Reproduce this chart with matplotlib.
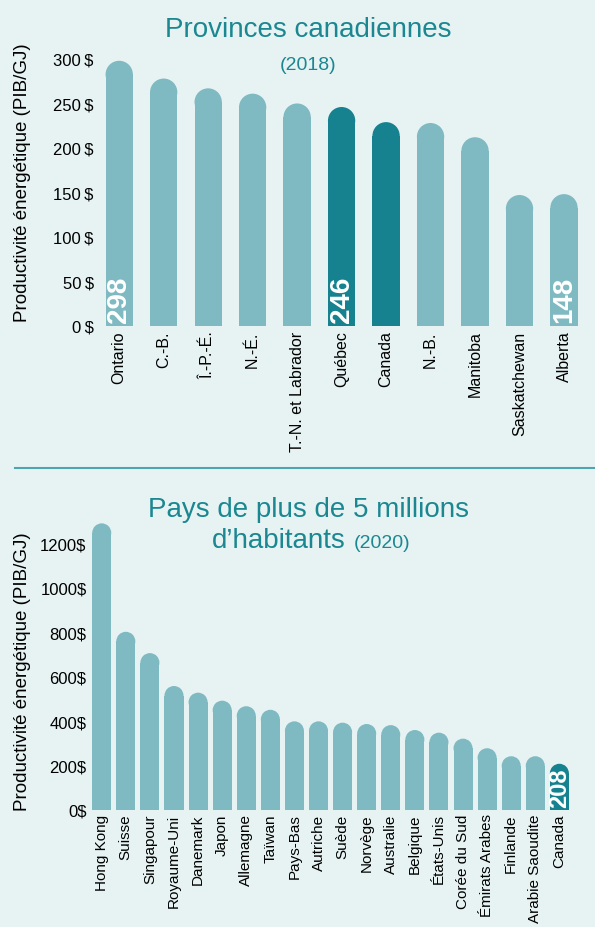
import numpy as np
import matplotlib
matplotlib.use("Agg")
import matplotlib.pyplot as plt
from matplotlib.patches import Ellipse

# --- data ---
prov_names = ["Ontario", "C.-B.", "Î.-P.-É.", "N.-É.", "T.-N. et Labrador", "Québec",
              "Canada", "N.-B.", "Manitoba", "Saskatchewan", "Alberta"]
prov_values = [298, 278, 267, 261, 250, 246, 229, 228, 212, 147, 148]
prov_dark = [False, False, False, False, False, True, True, False, False, False, False]
prov_show = [True, False, False, False, False, True, False, False, False, False, True]
prov_ticks = [0, 50, 100, 150, 200, 250, 300]

pays_names = ["Hong Kong", "Suisse", "Singapour", "Royaume-Uni", "Danemark", "Japon",
              "Allemagne", "Taïwan", "Pays-Bas", "Autriche", "Suède", "Norvège",
              "Australie", "Belgique", "États-Unis", "Corée du Sud", "Émirats Arabes",
              "Finlande", "Arabie Saoudite", "Canada"]
pays_values = [1290, 802, 706, 558, 528, 492, 467, 451, 399, 399, 393, 387,
               382, 360, 348, 321, 278, 242, 242, 208]
pays_dark = [False] * 19 + [True]
pays_show = [False] * 19 + [True]
pays_ticks = [0, 200, 400, 600, 800, 1000, 1200]

BG = "#E7F3F3"
LIGHT = "#7FBAC2"
DARK = "#168290"
TEAL = "#1A8791"
W, H = 595, 928
SANS = ["Liberation Sans", "DejaVu Sans"]

fig = plt.figure(figsize=(W / 100, H / 100), dpi=100, facecolor=BG)


def px_axes(left, right, top, bottom):
    # axes from pixel edges (origin top-left)
    return fig.add_axes([left / W, 1 - bottom / H, (right - left) / W, (bottom - top) / H])


def round_bars(ax, values, dark, width):
    x = np.arange(len(values))
    pos = ax.get_position()
    x0, x1 = ax.get_xlim()
    y0, y1 = ax.get_ylim()
    pxx = pos.width * W / (x1 - x0)
    pxy = pos.height * H / (y1 - y0)
    ry = (width / 2) * pxx / pxy
    for xi, v, d in zip(x, values, dark):
        c = DARK if d else LIGHT
        ax.bar(xi, v - ry, width=width, color=c, linewidth=0)
        ax.add_patch(Ellipse((xi, v - ry), width, 2 * ry, color=c, linewidth=0))


def style(ax, names, ticks, fmt, fs_x, xpad):
    ax.set_facecolor(BG)
    for s in ax.spines.values():
        s.set_visible(False)
    ax.set_yticks(ticks)
    ax.set_yticklabels([fmt.format(t) for t in ticks], family=SANS, fontsize=12)
    ax.set_xticks(np.arange(len(names)))
    ax.set_xticklabels(names, rotation=90, family=SANS, fontsize=fs_x, va="top")
    ax.tick_params(length=0, pad=4)
    ax.tick_params(axis="x", pad=xpad)


# --- provinces ---
ax1 = px_axes(99.2, 584, 51.1, 326.7)
ax1.set_xlim(-0.45, 10.45)
ax1.set_ylim(0, 310)
round_bars(ax1, prov_values, prov_dark, 0.614)
style(ax1, prov_names, prov_ticks, "{}\u2009$", 11.5, 3.5)
for i, (v, s) in enumerate(zip(prov_values, prov_show)):
    if s:
        ax1.annotate(str(v), (i, 0), xytext=(0, 3), textcoords="offset points",
                     rotation=90, ha="center", va="bottom", color="white",
                     fontsize=20, fontweight="bold", family=SANS)

fig.text(308 / W, 1 - 37 / H, "Provinces canadiennes", ha="center", va="baseline",
         color=TEAL, fontsize=20, family=SANS)
fig.text(308 / W, 1 - 70 / H, "(2018)", ha="center", va="baseline",
         color=TEAL, fontsize=14, family=SANS)
fig.text(23 / W, 1 - 182.5 / H, "Productivité énergétique (PIB/GJ)", rotation=90,
         ha="center", va="center", fontsize=13.5, family=SANS)

# separator
fig.add_artist(plt.Line2D([15 / W, 1], [1 - 469 / H] * 2, color="#4FA5AF", lw=1.5))

# --- pays ---
ax2 = px_axes(92.1, 594.3, 519.9, 811)
ax2.set_xlim(-0.4, 20.45)
ax2.set_ylim(0, 1310)
round_bars(ax2, pays_values, pays_dark, 0.79)
style(ax2, pays_names, pays_ticks, "{}$", 11, 2.5)
for i, (v, s) in enumerate(zip(pays_values, pays_show)):
    if s:
        ax2.annotate(str(v), (i, 0), xytext=(0, 2), textcoords="offset points",
                     rotation=90, ha="center", va="bottom", color="white",
                     fontsize=17, fontweight="bold", family=SANS)

fig.text(309 / W, 1 - 516.7 / H, "Pays de plus de 5 millions", ha="center",
         va="baseline", color=TEAL, fontsize=20, family=SANS)
fig.text(345.4 / W, 1 - 548 / H, "d\u2019habitants", ha="right", va="baseline",
         color=TEAL, fontsize=20, family=SANS)
fig.text(353.7 / W, 1 - 548 / H, "(2020)", ha="left", va="baseline",
         color=TEAL, fontsize=14, family=SANS)
fig.text(23 / W, 1 - 671.5 / H, "Productivité énergétique (PIB/GJ)", rotation=90,
         ha="center", va="center", fontsize=13.5, family=SANS)

fig.savefig("out.png", dpi=100, facecolor=BG)
